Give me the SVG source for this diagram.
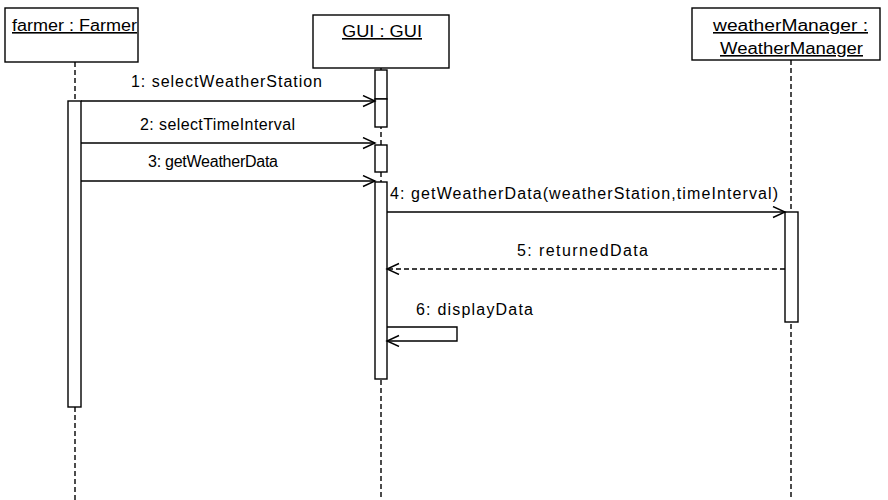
<svg xmlns="http://www.w3.org/2000/svg" width="888" height="500" viewBox="0 0 888 500">
<style>
.box{fill:#fff;stroke:#000;stroke-width:1.4}
.bar{fill:#fff;stroke:#000;stroke-width:1.4}
.life{stroke:#000;stroke-width:1.4;stroke-dasharray:5 3;fill:none}
.msg{stroke:#000;stroke-width:1.4;fill:none}
.ret{stroke:#000;stroke-width:1.4;fill:none;stroke-dasharray:5 3}
text{font-family:"Liberation Sans",Arial,sans-serif;font-size:16px;fill:#000}
.u{text-decoration:underline}
</style>
<defs>
<marker id="open" markerUnits="userSpaceOnUse" markerWidth="16" markerHeight="14" refX="13" refY="6" orient="auto" viewBox="0 0 16 14">
<path d="M1,0.5 L13,6 L1,11.5" fill="none" stroke="#000" stroke-width="1.4"/>
</marker>
</defs>
<g id="farmer">
<rect class="box" x="5" y="8" width="133" height="54"/>
<text class="u" x="12" y="31" textLength="125" lengthAdjust="spacingAndGlyphs">farmer : Farmer</text>
<line class="life" x1="75" y1="62" x2="75" y2="101"/>
<line class="life" x1="75" y1="407" x2="75" y2="500"/>
<rect class="bar" x="68" y="101" width="13" height="306"/>
</g>
<g id="gui">
<rect class="box" x="313" y="15" width="136" height="53"/>
<text class="u" x="342" y="37" textLength="80" lengthAdjust="spacingAndGlyphs">GUI : GUI</text>
<line class="life" x1="381" y1="68" x2="381" y2="500"/>
<rect class="bar" x="375" y="70" width="12" height="29"/>
<rect class="bar" x="375" y="99" width="12" height="28"/>
<rect class="bar" x="375" y="145" width="12" height="27"/>
<rect class="bar" x="375" y="182" width="12" height="197"/>
</g>
<g id="weatherManager">
<rect class="box" x="692" y="8" width="188" height="52"/>
<text class="u" x="713" y="31" textLength="155" lengthAdjust="spacingAndGlyphs">weatherManager :</text>
<text class="u" x="720" y="54" textLength="143" lengthAdjust="spacingAndGlyphs">WeatherManager</text>
<line class="life" x1="791" y1="60" x2="791" y2="500"/>
<rect class="bar" x="785" y="212" width="13" height="110"/>
</g>
<g id="connectors">
<line class="msg" x1="81" y1="101" x2="375" y2="101" marker-end="url(#open)"/>
<text x="131" y="87" textLength="191" lengthAdjust="spacing">1: selectWeatherStation</text>
<line class="msg" x1="81" y1="143" x2="375" y2="143" marker-end="url(#open)"/>
<text x="140" y="130" textLength="155" lengthAdjust="spacing">2: selectTimeInterval</text>
<line class="msg" x1="81" y1="181" x2="375" y2="181" marker-end="url(#open)"/>
<text x="148" y="167" textLength="130" lengthAdjust="spacing">3: getWeatherData</text>
<line class="msg" x1="387" y1="212" x2="785" y2="212" marker-end="url(#open)"/>
<text x="390" y="199" textLength="388" lengthAdjust="spacing">4: getWeatherData(weatherStation,timeInterval)</text>
<line class="ret" x1="785" y1="269" x2="387" y2="269" marker-end="url(#open)"/>
<text x="517" y="256" textLength="131" lengthAdjust="spacing">5: returnedData</text>
<path class="msg" d="M387,327 H457 V341 H387" marker-end="url(#open)"/>
<text x="416" y="315" textLength="117" lengthAdjust="spacing">6: displayData</text>
</g>
</svg>
